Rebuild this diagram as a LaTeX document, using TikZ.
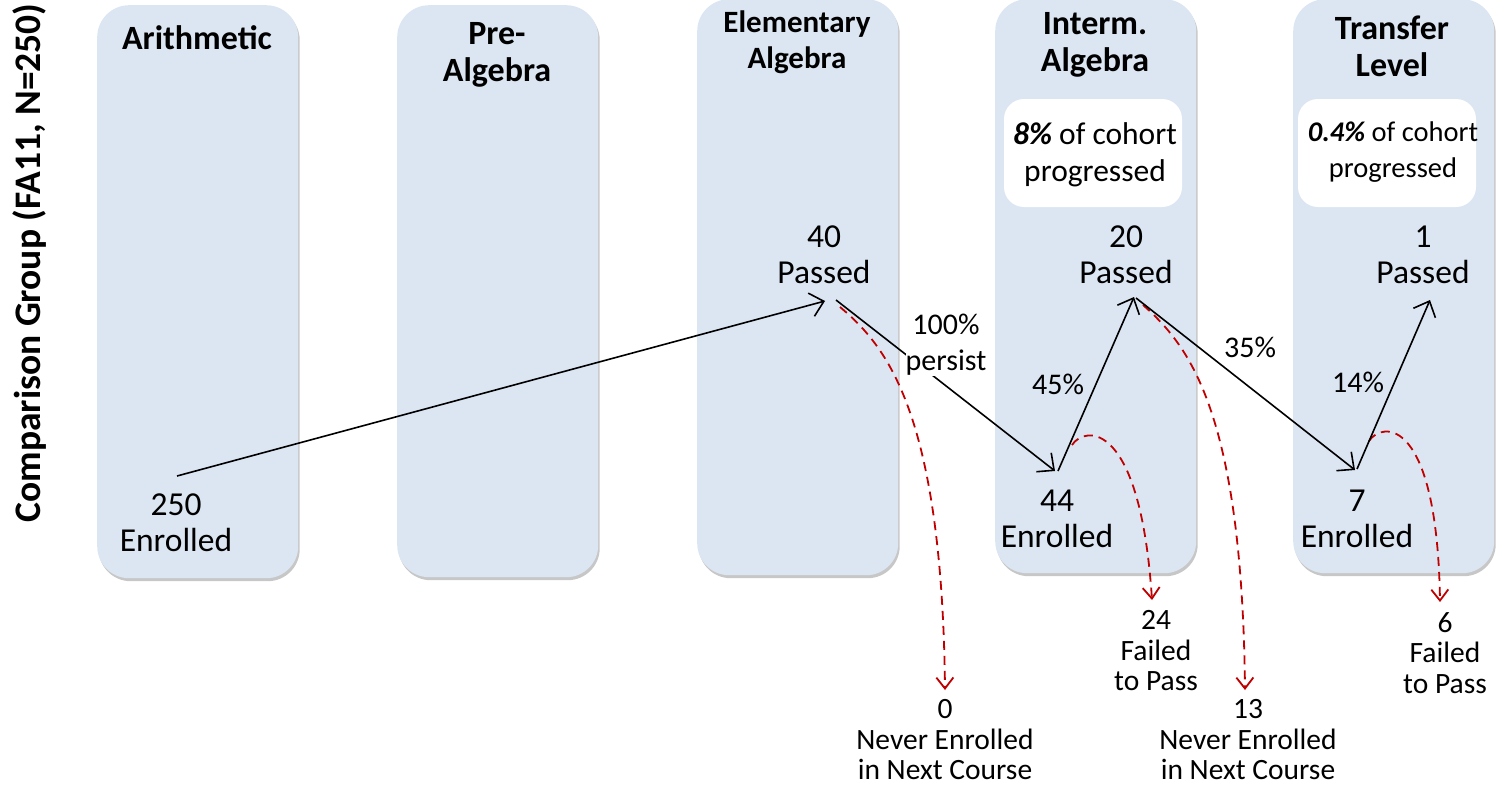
\documentclass[tikz,border=0pt]{standalone}
\usepackage{fontspec}
\setmainfont{Carlito}
\usetikzlibrary{arrows.meta,shadows}
\definecolor{laneblue}{HTML}{DCE6F2}
\definecolor{dropred}{HTML}{C00000}
\begin{document}
\begin{tikzpicture}[x=1pt,y=-1pt,
  lane/.style={fill=laneblue, rounded corners=32pt, minimum width=201pt, anchor=north west,
    inner sep=0pt, drop shadow={shadow xshift=1.5pt, shadow yshift=-3pt, fill=black, opacity=0.22}},
  ttl/.style={align=center, font=\fontsize{34}{37}\selectfont\bfseries},
  val/.style={align=center, font=\fontsize{33.5}{36}\selectfont},
  pct/.style={align=center, font=\fontsize{30}{36}\selectfont},
  droplbl/.style={align=center, font=\fontsize{29.5}{30.5}\selectfont},
  note/.style={fill=white, rounded corners=20pt, minimum width=178pt, minimum height=108pt, inner sep=0pt},
  flow/.style={line width=1.6pt, -{Straight Barb[length=13pt,width=24pt]}},
  loss/.style={line width=1.8pt, dropred, dash pattern=on 9pt off 6pt, -{Straight Barb[length=11pt,width=17pt]}}]
\useasboundingbox (0,0) rectangle (1512,787);

% lanes
\node[lane, minimum height=573pt] (laneA) at (97,5) {};
\node[lane, minimum height=572pt] (laneP) at (397,5) {};
\node[lane, minimum height=576pt] (laneE) at (697,-1) {};
\node[lane, minimum height=574pt] (laneI) at (995,-1) {};
\node[lane, minimum height=574pt] (laneT) at (1293,-1) {};

% side label
\node[rotate=90, font=\fontsize{37.5}{38}\selectfont\bfseries] (side) at (30,263) {Comparison Group (FA11, N=250)};

% titles
\node[ttl] (tA) at (197,38) {Arithmetic};
\node[ttl] (tP) at (497,55) {Pre-\\Algebra};
\node[ttl, font=\fontsize{31}{36}\selectfont\bfseries] (tE) at (797,42) {Elementary\\Algebra};
\node[ttl] (tI) at (1095,45) {Interm.\\Algebra};
\node[ttl] (tT) at (1392,46) {Transfer\\Level};

% notes
\node[note] (nI) at (1093,153) {};
\node[align=center, font=\fontsize{31.5}{37}\selectfont] (nIt) at (1095,155) {\textbf{\textit{8\%}} of cohort\\progressed};
\node[note] (nT) at (1387,153) {};
\node[align=center, font=\fontsize{28.5}{36}\selectfont] (nTt) at (1393,152) {\textbf{\textit{0.4\%}} of cohort\\progressed};

% values
\node[val] (v250) at (176,523) {250\\Enrolled};
\node[val] (v40) at (824,255) {40\\Passed};
\node[val] (v44) at (1057,519) {44\\Enrolled};
\node[val] (v20) at (1126,255) {20\\Passed};
\node[val] (v7) at (1357,519) {7\\Enrolled};
\node[val] (v1) at (1423,255) {1\\Passed};

% connector points
\coordinate (a0) at (177,476);
\coordinate (a1) at (825,301);
\coordinate (a1s) at (836,300);
\coordinate (a2) at (1055,471);
\coordinate (a2s) at (1058,471);
\coordinate (a3) at (1134,297);
\coordinate (a3s) at (1136,298);
\coordinate (a4) at (1355,470);
\coordinate (a4s) at (1357,469);
\coordinate (a5) at (1430,300);

% red loss curves
\coordinate (r1s) at (840,307);
\coordinate (r1e) at (945,690);
\coordinate (r2s) at (1143,305);
\coordinate (r2e) at (1245,690);
\coordinate (r3s) at (1072,445);
\coordinate (r3e) at (1152,600);
\coordinate (r4s) at (1369,441);
\coordinate (r4e) at (1440,602);
\draw[loss] (r1s) .. controls (885,345) and (942,410) .. (r1e);
\draw[loss] (r2s) .. controls (1188,345) and (1242,410) .. (r2e);
\draw[loss] (r3s) .. controls (1085,425) and (1140,420) .. (r3e);
\draw[loss] (r4s) .. controls (1382,421) and (1437,416) .. (r4e);

% black flow arrows
\draw[flow] (a0) -- (a1);
\draw[flow] (a1s) -- (a2);
\draw[flow] (a2s) -- (a3);
\draw[flow] (a3s) -- (a4);
\draw[flow] (a4s) -- (a5);

% percentages
\node[pct, fill=white, inner sep=0pt] (p100) at (946,345) {100\%\\persist};
\node[pct] (p45) at (1058,384) {45\%};
\node[pct] (p35) at (1250,347) {35\%};
\node[pct] (p14) at (1358,382) {14\%};

% drop labels
\node[droplbl] (d0) at (945,740) {0\\Never Enrolled\\in Next Course};
\node[droplbl] (d13) at (1248,740) {13\\Never Enrolled\\in Next Course};
\node[droplbl] (d24) at (1156,651) {24\\Failed\\to Pass};
\node[droplbl] (d6) at (1445,653) {6\\Failed\\to Pass};
\end{tikzpicture}
\end{document}
